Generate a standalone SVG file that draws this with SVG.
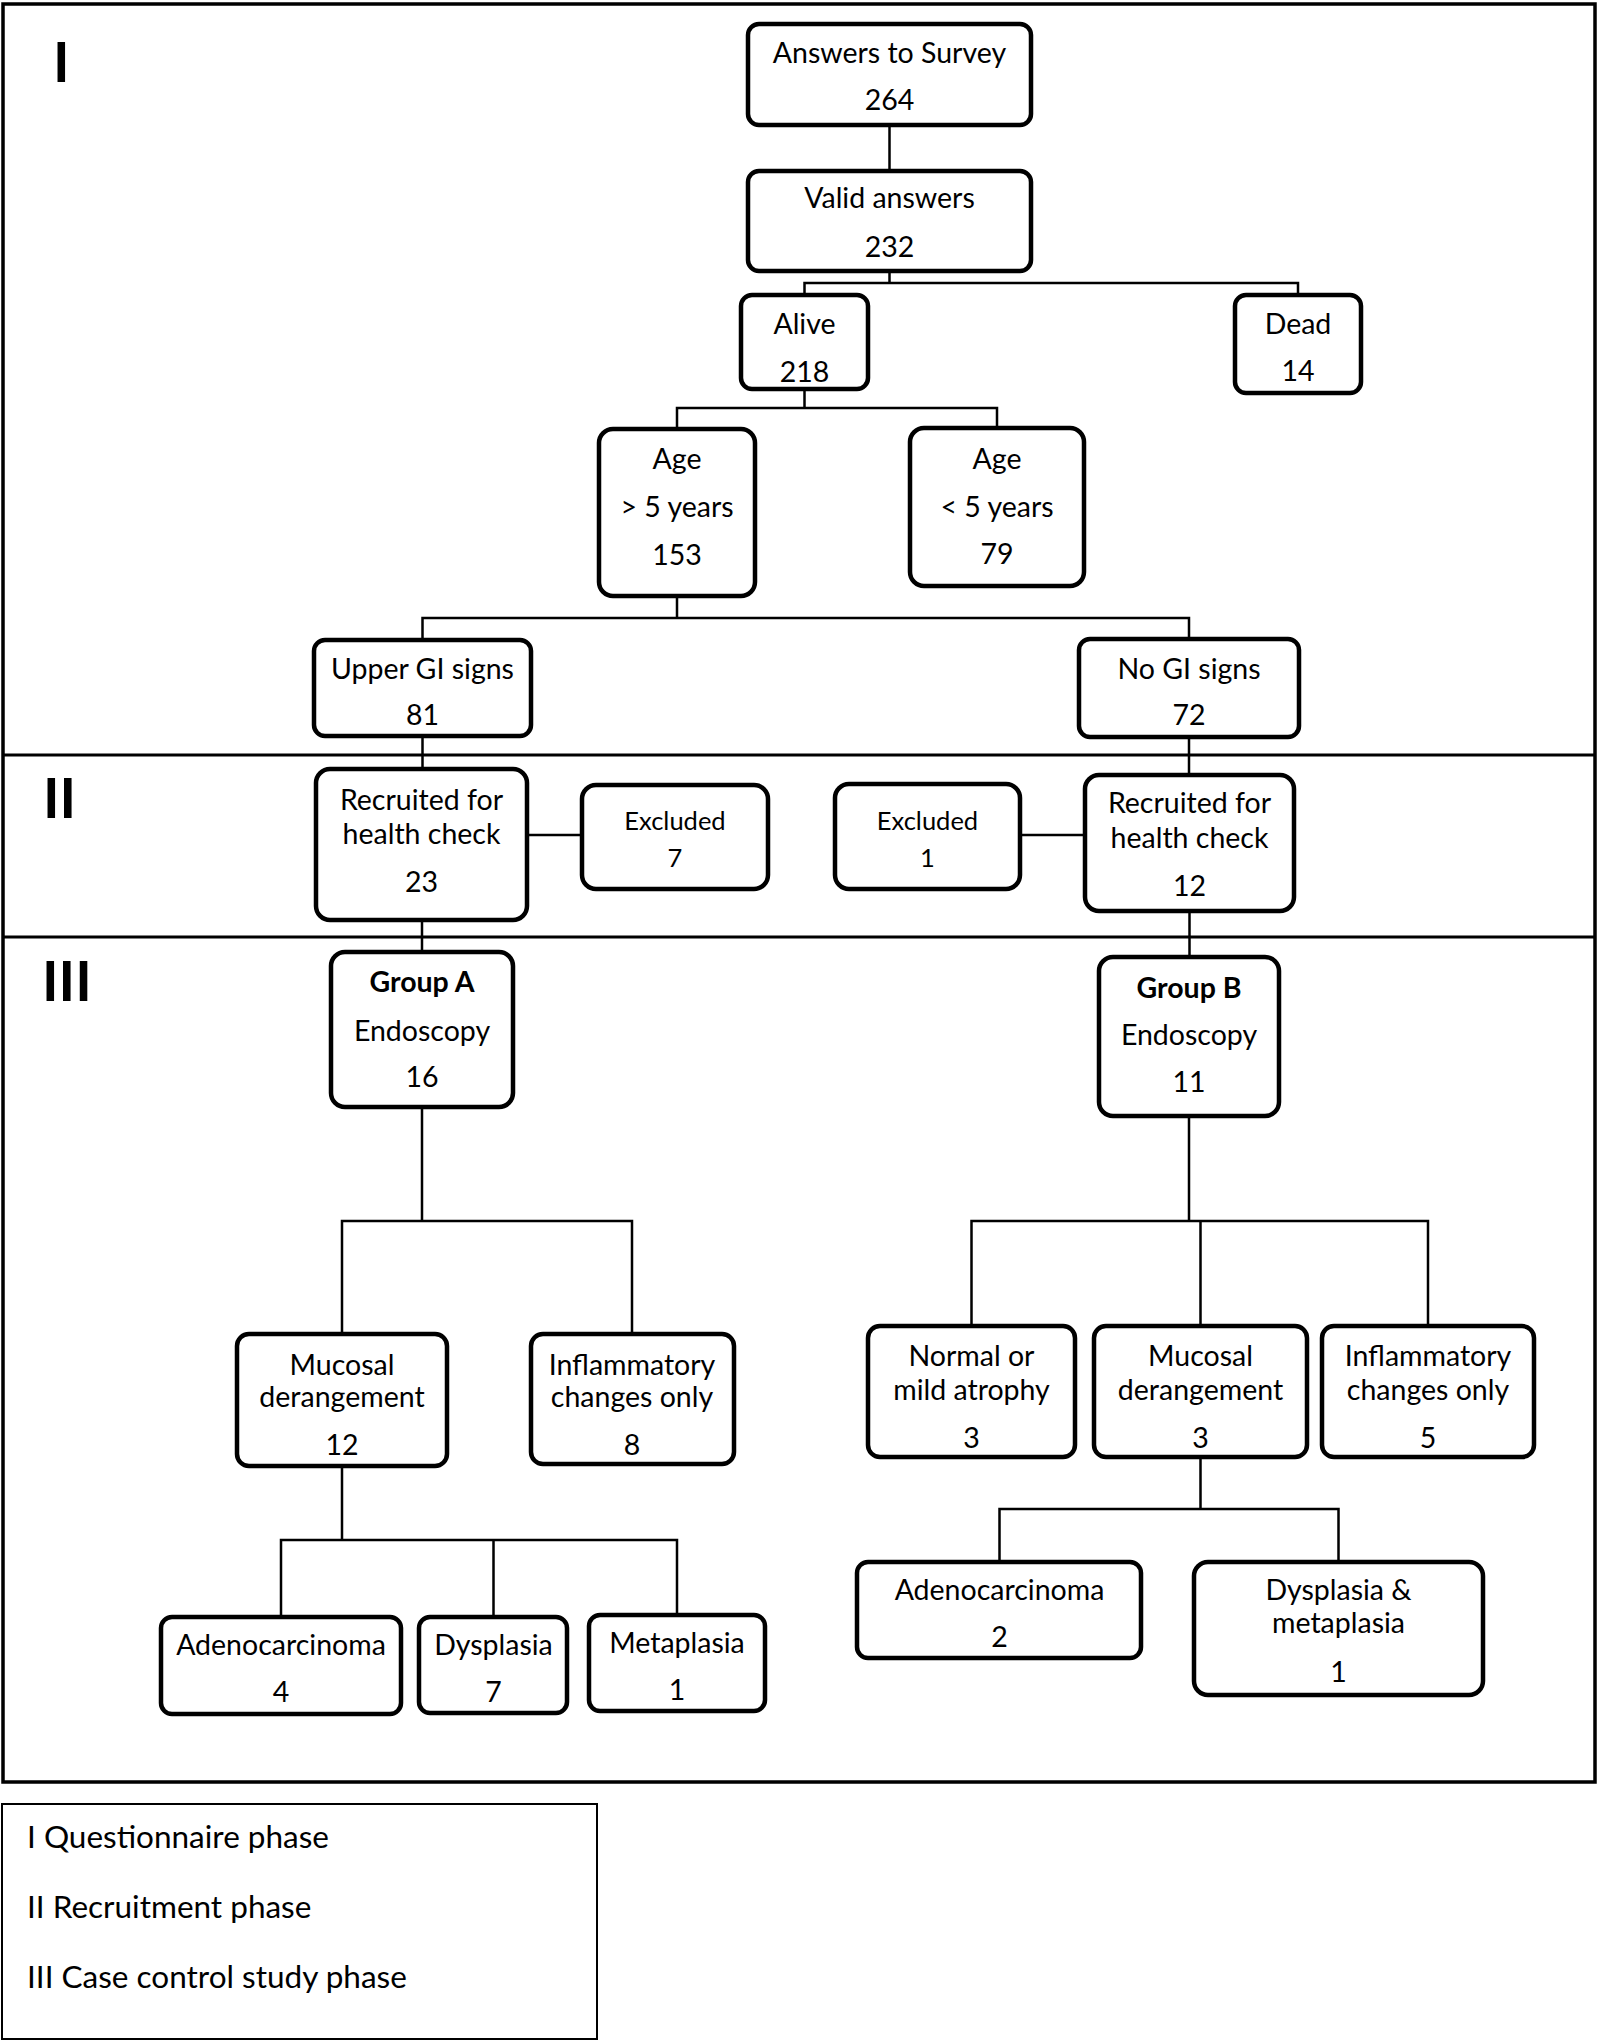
<svg xmlns="http://www.w3.org/2000/svg" width="1598" height="2041" viewBox="0 0 1598 2041">
<style>
.frame{fill:none;stroke:#000;stroke-width:3.5}
.div{fill:none;stroke:#000;stroke-width:3}
.box{fill:#fff;stroke:#000;stroke-width:4.5}
.con{fill:none;stroke:#000;stroke-width:2.5}
text{font-family:Lato,"Open Sans","Liberation Sans",sans-serif;font-size:28.5px;fill:#000;text-anchor:middle}
.sm{font-size:25.5px}
.b{font-weight:bold}
.ph{font-size:56px;font-weight:bold;text-anchor:start}
.lg{text-anchor:start;font-size:31.5px}
</style>
<rect width="1598" height="2041" fill="#fff"/>
<g id="frame">
<rect class="frame" x="3" y="4" width="1592" height="1778"/>
<line class="div" x1="3" y1="755" x2="1595" y2="755"/>
<line class="div" x1="3" y1="937" x2="1595" y2="937"/>
<text class="ph" x="53" y="82">I</text>
<text class="ph" x="43" y="818">II</text>
<text class="ph" x="42" y="1001">III</text>
</g>
<g id="connectors">
<path class="con" d="M889.5,125V171"/>
<path class="con" d="M889.5,271V283M804.5,295V283H1298V295"/>
<path class="con" d="M804.5,389V408M677,429V408H997V428"/>
<path class="con" d="M677,596V618M422.5,640V618H1189V639"/>
<path class="con" d="M422.5,736V769"/>
<path class="con" d="M527,835H582"/>
<path class="con" d="M1020,835H1085"/>
<path class="con" d="M1189,737V775"/>
<path class="con" d="M422,920V952"/>
<path class="con" d="M1189.5,911V957"/>
<path class="con" d="M422,1107V1221M342,1334V1221H632V1334"/>
<path class="con" d="M1189,1116V1221M971.5,1326V1221H1428V1326M1200.5,1221V1326"/>
<path class="con" d="M342,1466V1540M281,1617V1540H677V1615M493.5,1540V1617"/>
<path class="con" d="M1200.5,1457V1509M999.5,1562V1509H1338.5V1562"/>
</g>
<g id="n-answers"><rect class="box" x="748" y="24" width="283" height="101" rx="11"/><text x="889.5" y="63">Answers to Survey</text><text x="889.5" y="110">264</text></g>
<g id="n-valid"><rect class="box" x="748" y="171" width="283" height="100" rx="11"/><text x="889.5" y="208">Valid answers</text><text x="889.5" y="257">232</text></g>
<g id="n-alive"><rect class="box" x="741" y="295" width="127" height="94" rx="11"/><text x="804.5" y="334">Alive</text><text x="804.5" y="382">218</text></g>
<g id="n-dead"><rect class="box" x="1235" y="295" width="126" height="98" rx="11"/><text x="1298" y="334">Dead</text><text x="1298" y="381">14</text></g>
<g id="n-age-gt5"><rect class="box" x="599" y="429" width="156" height="167" rx="14"/><text x="677" y="469">Age</text><text x="677" y="517">&gt; 5 years</text><text x="677" y="565">153</text></g>
<g id="n-age-lt5"><rect class="box" x="910" y="428" width="174" height="158" rx="14"/><text x="997" y="469">Age</text><text x="997" y="517">&lt; 5 years</text><text x="997" y="564">79</text></g>
<g id="n-upper-gi"><rect class="box" x="314" y="640" width="217" height="96" rx="11"/><text x="422.5" y="679">Upper GI signs</text><text x="422.5" y="725">81</text></g>
<g id="n-no-gi"><rect class="box" x="1079" y="639" width="220" height="98" rx="11"/><text x="1189" y="679">No GI signs</text><text x="1189" y="725">72</text></g>
<g id="n-recruited-a"><rect class="box" x="316" y="769" width="211" height="151" rx="14"/><text x="421.5" y="810">Recruited for</text><text x="421.5" y="844">health check</text><text x="421.5" y="892">23</text></g>
<g id="n-excluded-7"><rect class="box" x="582" y="785" width="186" height="104" rx="14"/><text class="sm" x="675" y="830">Excluded</text><text class="sm" x="675" y="867">7</text></g>
<g id="n-excluded-1"><rect class="box" x="835" y="784" width="185" height="105" rx="14"/><text class="sm" x="927.5" y="830">Excluded</text><text class="sm" x="927.5" y="867">1</text></g>
<g id="n-recruited-b"><rect class="box" x="1085" y="775" width="209" height="136" rx="14"/><text x="1189.5" y="813">Recruited for</text><text x="1189.5" y="848">health check</text><text x="1189.5" y="896">12</text></g>
<g id="n-group-a"><rect class="box" x="331" y="952" width="182" height="155" rx="14"/><text class="b" x="422" y="992">Group A</text><text x="422" y="1041">Endoscopy</text><text x="422" y="1087">16</text></g>
<g id="n-group-b"><rect class="box" x="1099" y="957" width="180" height="159" rx="14"/><text class="b" x="1189" y="998">Group B</text><text x="1189" y="1045">Endoscopy</text><text x="1189" y="1092">11</text></g>
<g id="n-mucosal-a"><rect class="box" x="237" y="1334" width="210" height="132" rx="12"/><text x="342" y="1375">Mucosal</text><text x="342" y="1407">derangement</text><text x="342" y="1455">12</text></g>
<g id="n-inflam-a"><rect class="box" x="531" y="1334" width="203" height="130" rx="12"/><text x="632" y="1375">Inflammatory</text><text x="632" y="1407">changes only</text><text x="632" y="1455">8</text></g>
<g id="n-normal-b"><rect class="box" x="868" y="1326" width="207" height="131" rx="12"/><text x="971.5" y="1366">Normal or</text><text x="971.5" y="1400">mild atrophy</text><text x="971.5" y="1448">3</text></g>
<g id="n-mucosal-b"><rect class="box" x="1094" y="1326" width="213" height="131" rx="12"/><text x="1200.5" y="1366">Mucosal</text><text x="1200.5" y="1400">derangement</text><text x="1200.5" y="1448">3</text></g>
<g id="n-inflam-b"><rect class="box" x="1322" y="1326" width="212" height="131" rx="12"/><text x="1428" y="1366">Inflammatory</text><text x="1428" y="1400">changes only</text><text x="1428" y="1448">5</text></g>
<g id="n-adeno-a"><rect class="box" x="161" y="1617" width="240" height="97" rx="11"/><text x="281" y="1655">Adenocarcinoma</text><text x="281" y="1702">4</text></g>
<g id="n-dysplasia-a"><rect class="box" x="419" y="1617" width="148" height="96" rx="11"/><text x="493.5" y="1655">Dysplasia</text><text x="493.5" y="1702">7</text></g>
<g id="n-metaplasia-a"><rect class="box" x="589" y="1615" width="176" height="96" rx="11"/><text x="677" y="1653">Metaplasia</text><text x="677" y="1700">1</text></g>
<g id="n-adeno-b"><rect class="box" x="857" y="1562" width="284" height="96" rx="11"/><text x="999.5" y="1600">Adenocarcinoma</text><text x="999.5" y="1647">2</text></g>
<g id="n-dysmeta-b"><rect class="box" x="1194" y="1562" width="289" height="133" rx="14"/><text x="1338.5" y="1600">Dysplasia &amp;</text><text x="1338.5" y="1633">metaplasia</text><text x="1338.5" y="1682">1</text></g>
<g id="legend">
<rect x="2" y="1804" width="595" height="235" fill="none" stroke="#000" stroke-width="2"/>
<text class="lg" x="27" y="1848">I Questionnaire phase</text>
<text class="lg" x="27" y="1918">II Recruitment phase</text>
<text class="lg" x="27" y="1988">III Case control study phase</text>
</g>
</svg>
